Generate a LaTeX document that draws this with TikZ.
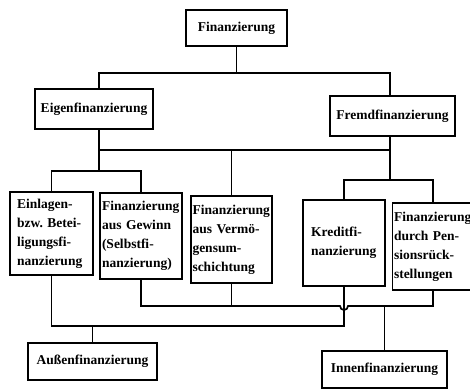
\documentclass[tikz,border=0pt]{standalone}
\usepackage{fontspec}
\setmainfont{Liberation Serif}
\begin{document}
\hyphenpenalty=10000
\exhyphenpenalty=10000
\frenchspacing
\begin{tikzpicture}[x=1pt,y=-1pt,
  bx/.style={draw, line width=1.7pt, inner sep=0pt,
    font=\bfseries\fontsize{13.5}{19}\selectfont},
  conn/.style={line width=1.7pt, line join=miter}]
\useasboundingbox (0,0) rectangle (470,390);
% top
\node[bx, minimum width=101pt, minimum height=36pt] (fin) at (236.5,28) {Finanzierung};
\node[bx, minimum width=118pt, minimum height=40pt] (eigen) at (94,109) {Eigenfinanzierung};
\node[bx, minimum width=125pt, minimum height=40pt] (fremd) at (392.5,116) {Fremdfinanzierung};
% row 3
\node[bx, align=left, inner xsep=7pt, text width=69pt, minimum height=83pt] (einl) at (51.5,233.5)
  {Einlagen-\\bzw.\ Betei-\\ligungsfi-\\nanzierung};
\node[bx, align=left, inner xsep=2pt, text width=78pt, minimum height=86pt] (gew) at (141,236)
  {Finanzierung\\aus Gewinn\\(Selbstfi-\\nanzierung)};
\node[bx, align=left, inner xsep=1.5pt, text width=78pt, minimum height=87pt] (verm) at (231.5,239.5)
  {Finanzierung\\aus Vermö-\\gensum-\\schichtung};
\node[bx, align=left, inner xsep=8pt, text width=66pt, minimum height=86pt] (kred) at (344,243)
  {Kreditfi-\\nanzierung};
\node[bx, align=left, inner xsep=1.5pt, text width=78pt, minimum height=87pt] (pens) at (433,246.5)
  {Finanzierung\\durch Pen-\\sionsrück-\\stellungen};
% bottom
\node[bx, minimum width=129pt, minimum height=37pt] (aussen) at (92.5,361.5) {Außenfinanzierung};
\node[bx, minimum width=125pt, minimum height=37pt] (innen) at (384.5,369.5) {Innenfinanzierung};
% junctions
\coordinate (e1) at (99,73);
\coordinate (f1) at (390,73);
\coordinate (e2) at (99,150);
\coordinate (f2) at (390,150);
\coordinate (e3) at (99,171);
\coordinate (f3) at (390,180);
\coordinate (iy) at (0,306);
\coordinate (ay) at (0,326);
% upper connectors
\draw[conn] (fin.south) -- (fin.south |- e1);
\draw[conn] (eigen.north -| e1) -- (e1) -- (f1) -- (fremd.north -| f1);
\draw[conn] (eigen.south -| e2) -- (e2) -- (f2) -- (fremd.south -| f2);
\draw[conn] (verm.north) -- (verm.north |- e2);
\draw[conn] (e2) -- (e3);
\draw[conn] (einl.north) |- (gew.north |- e3) -- (gew.north);
\draw[conn] (f2) -- (f3);
\draw[conn] (kred.north) |- (pens.north |- f3) -- (pens.north);
% lower connectors
\coordinate (hop) at (kred.south |- iy);
\draw[conn] (gew.south) |- ([xshift=-4pt]hop)
  arc[start angle=180, end angle=360, radius=4pt]
  -- (pens.south |- iy) -- (pens.south);
\draw[conn] (verm.south) -- (verm.south |- iy);
\draw[conn] (innen.north) -- (innen.north |- iy);
\draw[conn] (einl.south) |- (kred.south |- ay) -- (kred.south);
\draw[conn] (aussen.north) -- (aussen.north |- ay);
\end{tikzpicture}
\end{document}
